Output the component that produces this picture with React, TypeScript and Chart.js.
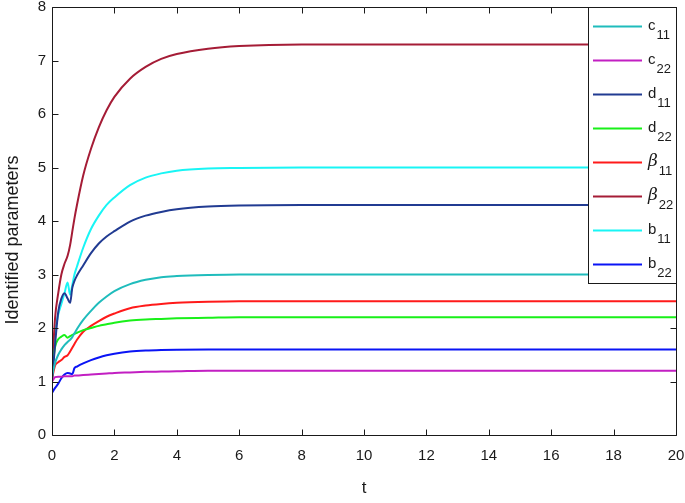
import React, { useEffect, useRef } from "react";
import { Chart, registerables } from "chart.js";

Chart.register(...registerables);

// time samples (t)
const T = [0, 0.1, 0.2, 0.3, 0.4, 0.5, 0.58, 0.65, 0.72, 0.8, 1.0, 1.25, 1.5, 1.75, 2, 2.5, 3, 3.5, 4, 5, 6, 8, 10, 20];

const C11 = [1.1, 1.35, 1.5, 1.6, 1.68, 1.74, 1.78, 1.83, 1.9, 1.98, 2.15, 2.32, 2.47, 2.59, 2.69, 2.82, 2.9, 2.95, 2.97, 2.99, 3.0, 3.0, 3.0, 3.0];
const C22 = [1.0, 1.08, 1.09, 1.09, 1.1, 1.1, 1.1, 1.1, 1.11, 1.11, 1.12, 1.13, 1.14, 1.15, 1.16, 1.17, 1.18, 1.185, 1.19, 1.2, 1.2, 1.2, 1.2, 1.2];
const D11 = [1.0, 1.7, 2.3, 2.55, 2.65, 2.55, 2.47, 2.75, 2.88, 2.98, 3.17, 3.4, 3.58, 3.71, 3.81, 3.99, 4.1, 4.17, 4.22, 4.27, 4.29, 4.3, 4.3, 4.3];
const D22 = [1.2, 1.65, 1.79, 1.84, 1.87, 1.82, 1.85, 1.87, 1.89, 1.91, 1.96, 2.0, 2.04, 2.07, 2.1, 2.14, 2.16, 2.17, 2.18, 2.19, 2.2, 2.2, 2.2, 2.2];
const BETA11 = [1.05, 1.3, 1.36, 1.4, 1.46, 1.49, 1.56, 1.63, 1.7, 1.78, 1.93, 2.04, 2.13, 2.21, 2.27, 2.37, 2.42, 2.45, 2.47, 2.49, 2.5, 2.5, 2.5, 2.5];
const BETA22 = [1.2, 2.2, 2.65, 3.0, 3.2, 3.35, 3.55, 3.8, 4.05, 4.3, 4.85, 5.35, 5.75, 6.07, 6.32, 6.66, 6.88, 7.03, 7.12, 7.22, 7.27, 7.3, 7.3, 7.3];
const B11 = [1.0, 1.9, 2.25, 2.45, 2.65, 2.85, 2.62, 2.8, 3.0, 3.15, 3.5, 3.85, 4.1, 4.3, 4.44, 4.67, 4.81, 4.89, 4.94, 4.98, 4.99, 5.0, 5.0, 5.0];
const B22 = [0.79, 0.88, 0.96, 1.06, 1.13, 1.16, 1.15, 1.14, 1.25, 1.28, 1.34, 1.4, 1.45, 1.49, 1.52, 1.56, 1.58, 1.59, 1.595, 1.6, 1.6, 1.6, 1.6, 1.6];

const SERIES = [C11, C22, D11, D22, BETA11, BETA22, B11, B22];
const NAMES = ["c", "c", "d", "d", "β", "β", "b", "b"];
const SUBS = ["11", "22", "11", "22", "11", "22", "11", "22"];
const COLORS = ["#1fbcbc", "#c21fc2", "#213b92", "#19f019", "#ff1a1a", "#a51c36", "#19f5f5", "#0a14f5"];

const X_TICKS = [0, 2, 4, 6, 8, 10, 12, 14, 16, 18, 20];
const Y_TICKS = [0, 1, 2, 3, 4, 5, 6, 7, 8];
const X_TITLE = "t";
const Y_TITLE = "Identified parameters";

const FONT = "'Liberation Sans', Arial, sans-serif";

const boxPlugin = {
  id: "boxPlugin",
  afterDraw(chart: any) {
    const { ctx, chartArea: a, scales } = chart;
    ctx.save();
    ctx.strokeStyle = "#1a1a1a";
    ctx.lineWidth = 1;
    const L = Math.round(a.left) + 0.5;
    const R = Math.round(a.right) + 0.5;
    const Tp = Math.round(a.top) + 0.5;
    const B = Math.round(a.bottom) + 0.5;
    ctx.beginPath();
    ctx.rect(L, Tp, R - L, B - Tp);
    ctx.stroke();
    const tl = 6;
    ctx.beginPath();
    X_TICKS.forEach((v) => {
      const x = Math.round(scales.x.getPixelForValue(v)) + 0.5;
      ctx.moveTo(x, B);
      ctx.lineTo(x, B - tl);
      ctx.moveTo(x, Tp);
      ctx.lineTo(x, Tp + tl);
    });
    Y_TICKS.forEach((v) => {
      const y = Math.round(scales.y.getPixelForValue(v)) + 0.5;
      ctx.moveTo(L, y);
      ctx.lineTo(L + tl, y);
      ctx.moveTo(R, y);
      ctx.lineTo(R - tl, y);
    });
    ctx.stroke();

    // y-axis title
    ctx.save();
    ctx.translate(13, 240);
    ctx.rotate(-Math.PI / 2);
    ctx.fillStyle = "#1a1a1a";
    ctx.font = "18px " + FONT;
    ctx.textAlign = "center";
    ctx.textBaseline = "middle";
    ctx.fillText(Y_TITLE, 0, 0);
    ctx.restore();

    // legend
    const lx = 588.5;
    const ly = 7.5;
    const lw = R - lx;
    const lh = 276;
    ctx.fillStyle = "#ffffff";
    ctx.fillRect(lx, ly, lw, lh);
    ctx.strokeStyle = "#1a1a1a";
    ctx.lineWidth = 1;
    ctx.strokeRect(lx, ly, lw, lh);
    NAMES.forEach((name, i) => {
      const yc = 26.5 + i * 34;
      ctx.strokeStyle = COLORS[i];
      ctx.lineWidth = 2;
      ctx.beginPath();
      ctx.moveTo(593, yc);
      ctx.lineTo(642, yc);
      ctx.stroke();
      ctx.fillStyle = "#1a1a1a";
      ctx.textBaseline = "middle";
      ctx.textAlign = "left";
      let x0 = 648;
      if (name === "β") {
        ctx.font = "italic 17px 'DejaVu Serif', serif";
        ctx.fillText(name, x0, yc - 1);
        x0 += ctx.measureText(name).width + 1;
      } else {
        ctx.font = "15px " + FONT;
        ctx.fillText(name, x0, yc - 1);
        x0 += ctx.measureText(name).width + 1;
      }
      ctx.font = "13px " + FONT;
      ctx.fillText(SUBS[i], x0, yc + 9);
    });
    ctx.restore();
  },
};

export default function App() {
  const ref = useRef<HTMLCanvasElement | null>(null);
  useEffect(() => {
    document.body.style.margin = "0";
    const canvas = ref.current!;
    const chart = new Chart(canvas, {
      type: "line",
      data: {
        datasets: SERIES.map((vals, i) => ({
          label: NAMES[i] + SUBS[i],
          data: T.map((t, k) => ({ x: t, y: vals[k] })),
          borderColor: COLORS[i],
          backgroundColor: COLORS[i],
          borderWidth: 2,
          pointRadius: 0,
          cubicInterpolationMode: "monotone" as const,
          fill: false,
        })),
      },
      options: {
        animation: false,
        responsive: false,
        maintainAspectRatio: false,
        layout: { padding: { top: 7, right: 9, left: 0, bottom: 0 } },
        plugins: { legend: { display: false }, tooltip: { enabled: false } },
        scales: {
          x: {
            type: "linear",
            min: 0,
            max: 20,
            afterBuildTicks: (s: any) => {
              s.ticks = X_TICKS.map((v) => ({ value: v }));
            },
            afterFit: (s: any) => {
              s.height = 68;
              s.paddingLeft = 0;
              s.paddingRight = 0;
            },
            grid: { display: false, drawTicks: false },
            border: { display: false },
            ticks: { padding: 12, color: "#1a1a1a", font: { family: FONT, size: 15 }, maxRotation: 0, autoSkip: false },
            title: { display: true, text: X_TITLE, color: "#1a1a1a", font: { family: FONT, size: 17 }, padding: { top: 0, bottom: 4 } },
          },
          y: {
            type: "linear",
            min: 0,
            max: 8,
            afterBuildTicks: (s: any) => {
              s.ticks = Y_TICKS.map((v) => ({ value: v }));
            },
            afterFit: (s: any) => {
              s.width = 52;
              s.paddingTop = 0;
              s.paddingBottom = 0;
            },
            grid: { display: false, drawTicks: false },
            border: { display: false },
            ticks: { padding: 6, color: "#1a1a1a", font: { family: FONT, size: 15 } },
            title: { display: false },
          },
        },
      },
      plugins: [boxPlugin],
    });
    return () => chart.destroy();
  }, []);
  return (
    <div style={{ position: "absolute", left: 0, top: 0, width: 685, height: 503 }}>
      <canvas ref={ref} width={685} height={503} style={{ width: 685, height: 503, display: "block" }} />
    </div>
  );
}
